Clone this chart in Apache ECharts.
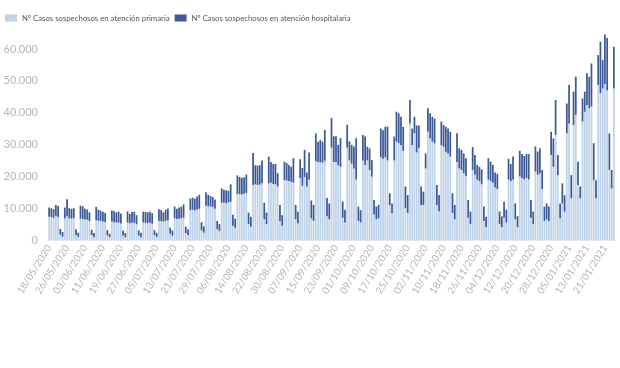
<!DOCTYPE html>
<html>
<head>
<meta charset="utf-8">
<script src="https://cdn.jsdelivr.net/npm/echarts@6/dist/echarts.min.js"></script>
<style>html,body{margin:0;padding:0;background:#fff}#chart{width:620px;height:368px}</style>
</head>
<body>
<div id="chart"></div>
<script>
const categories = [
'18/05/2020','19/05/2020','20/05/2020','21/05/2020','22/05/2020','23/05/2020','24/05/2020','25/05/2020','26/05/2020','27/05/2020','28/05/2020','29/05/2020','30/05/2020','31/05/2020',
'01/06/2020','02/06/2020','03/06/2020','04/06/2020','05/06/2020','06/06/2020','07/06/2020','08/06/2020','09/06/2020','10/06/2020','11/06/2020','12/06/2020','13/06/2020','14/06/2020','15/06/2020','16/06/2020','17/06/2020','18/06/2020','19/06/2020','20/06/2020','21/06/2020','22/06/2020','23/06/2020','24/06/2020','25/06/2020','26/06/2020','27/06/2020','28/06/2020','29/06/2020','30/06/2020',
'01/07/2020','02/07/2020','03/07/2020','04/07/2020','05/07/2020','06/07/2020','07/07/2020','08/07/2020','09/07/2020','10/07/2020','11/07/2020','12/07/2020','13/07/2020','14/07/2020','15/07/2020','16/07/2020','17/07/2020','18/07/2020','19/07/2020','20/07/2020','21/07/2020','22/07/2020','23/07/2020','24/07/2020','25/07/2020','26/07/2020','27/07/2020','28/07/2020','29/07/2020','30/07/2020','31/07/2020',
'01/08/2020','02/08/2020','03/08/2020','04/08/2020','05/08/2020','06/08/2020','07/08/2020','08/08/2020','09/08/2020','10/08/2020','11/08/2020','12/08/2020','13/08/2020','14/08/2020','15/08/2020','16/08/2020','17/08/2020','18/08/2020','19/08/2020','20/08/2020','21/08/2020','22/08/2020','23/08/2020','24/08/2020','25/08/2020','26/08/2020','27/08/2020','28/08/2020','29/08/2020','30/08/2020','31/08/2020',
'01/09/2020','02/09/2020','03/09/2020','04/09/2020','05/09/2020','06/09/2020','07/09/2020','08/09/2020','09/09/2020','10/09/2020','11/09/2020','12/09/2020','13/09/2020','14/09/2020','15/09/2020','16/09/2020','17/09/2020','18/09/2020','19/09/2020','20/09/2020','21/09/2020','22/09/2020','23/09/2020','24/09/2020','25/09/2020','26/09/2020','27/09/2020','28/09/2020','29/09/2020','30/09/2020',
'01/10/2020','02/10/2020','03/10/2020','04/10/2020','05/10/2020','06/10/2020','07/10/2020','08/10/2020','09/10/2020','10/10/2020','11/10/2020','12/10/2020','13/10/2020','14/10/2020','15/10/2020','16/10/2020','17/10/2020','18/10/2020','19/10/2020','20/10/2020','21/10/2020','22/10/2020','23/10/2020','24/10/2020','25/10/2020','26/10/2020','27/10/2020','28/10/2020','29/10/2020','30/10/2020','31/10/2020',
'01/11/2020','02/11/2020','03/11/2020','04/11/2020','05/11/2020','06/11/2020','07/11/2020','08/11/2020','09/11/2020','10/11/2020','11/11/2020','12/11/2020','13/11/2020','14/11/2020','15/11/2020','16/11/2020','17/11/2020','18/11/2020','19/11/2020','20/11/2020','21/11/2020','22/11/2020','23/11/2020','24/11/2020','25/11/2020','26/11/2020','27/11/2020','28/11/2020','29/11/2020','30/11/2020',
'01/12/2020','02/12/2020','03/12/2020','04/12/2020','05/12/2020','06/12/2020','07/12/2020','08/12/2020','09/12/2020','10/12/2020','11/12/2020','12/12/2020','13/12/2020','14/12/2020','15/12/2020','16/12/2020','17/12/2020','18/12/2020','19/12/2020','20/12/2020','21/12/2020','22/12/2020','23/12/2020','24/12/2020','25/12/2020','26/12/2020','27/12/2020','28/12/2020','29/12/2020','30/12/2020','31/12/2020',
'01/01/2021','02/01/2021','03/01/2021','04/01/2021','05/01/2021','06/01/2021','07/01/2021','08/01/2021','09/01/2021','10/01/2021','11/01/2021','12/01/2021','13/01/2021','14/01/2021','15/01/2021','16/01/2021','17/01/2021','18/01/2021','19/01/2021','20/01/2021','21/01/2021','22/01/2021','23/01/2021','24/01/2021','25/01/2021'
];

const primaria = [
7300,7200,7000,7600,7200,1700,1000,
6800,7500,6800,6700,6900,1500,1000,
6700,6600,6500,6400,5900,1500,900,
6200,6000,6000,5800,5600,1400,900,
5800,5600,5500,5500,5200,1400,900,
5500,5300,5400,5400,5000,1400,900,
5500,5400,5300,5400,5100,1500,1000,
6000,5900,5800,6000,6200,2000,1400,
6800,6600,6700,6800,7000,2200,1600,
9400,9500,9300,9600,9800,3000,2300,
10800,10600,10500,10400,9800,3400,2800,
11700,11800,11500,11800,12000,4500,3800,
14500,14400,14300,14500,14800,5000,4200,
17300,17500,17300,17400,17800,6500,5000,
17800,18000,17600,17500,16800,6000,4500,
18800,18700,18500,18300,18000,6500,5200,
19500,17000,19800,16800,19000,6800,6000,
24800,24500,24400,24300,24900,7500,6500,
29000,24500,24500,23500,23000,7000,5500,
29000,25000,24000,22500,19000,6000,5500,
25000,23600,25000,22000,19900,8000,6500,
6800,26000,25500,26000,25000,11000,8400,
25000,30900,30400,29800,28000,10000,8500,
36600,29800,33500,27500,29000,11000,11000,
22500,34000,32000,30900,30400,11000,9000,
29800,29300,27700,27200,26200,8500,6500,
24500,22500,22000,21000,20000,7000,5000,
22000,20500,19000,18500,17500,6000,4000,
19000,18500,18000,16500,16000,5000,4000,
7000,5500,19000,18500,19000,6500,4000,
20000,19500,19000,19500,19000,7000,5000,
21500,20500,21000,16000,6000,6500,6000,
26700,23000,33000,20400,6800,11500,8900,
33500,36600,13100,36100,39300,17300,13100,
37200,40300,42400,41400,41900,18800,13100,
48700,46100,47600,49000,47000,22000,16200,
47600
];

const hospitalaria = [
2900,2800,2700,3400,3500,1800,1500,
3400,5300,3200,3100,3100,1900,1300,
4100,4000,3300,3200,2800,1700,1300,
4200,3500,3200,3100,2900,1700,1100,
3500,3400,3200,3400,3100,1600,1300,
3500,2900,3400,3500,2800,1600,1400,
3400,3400,3400,3500,3300,1600,1300,
3700,3500,2900,3500,3700,1900,1600,
3700,3200,3500,3700,4200,2000,1700,
3600,3800,3700,4100,4400,2600,2000,
4200,3600,3300,3100,2900,2600,2200,
4500,4000,4100,3700,5500,3400,2900,
5800,5400,5200,5200,5800,3600,3100,
10000,6000,6100,6100,7200,5200,3600,
8400,6500,6300,6400,4200,5000,3300,
5800,5500,5100,4700,7700,4500,3700,
5900,5600,8500,4400,8500,5600,5000,
8700,6400,7000,6600,9700,5700,5000,
9300,8100,8100,6400,9000,5100,4000,
7200,6000,5900,6900,13000,4500,3900,
8000,8900,4300,6800,5200,4600,4000,
4200,9000,9000,9600,10600,3700,3100,
7500,9400,9400,8900,7500,6800,5600,
7400,5200,5200,8500,7000,5800,4200,
4700,7400,7800,7800,7800,6300,5100,
7400,6800,7900,7800,7800,6200,4500,
9000,6300,6300,6200,5700,5600,3900,
7200,6200,4600,4500,4700,4500,3300,
6700,6100,5600,4700,4800,4000,3400,
5000,4000,6500,5400,7200,5000,3500,
8000,7500,7400,7500,8000,5600,3900,
7900,7300,7800,6000,4500,5000,4500,
7300,8900,11000,6300,4700,6300,5200,
9400,12100,7300,10500,12000,7300,3700,
7300,6300,10000,9900,13600,11600,5700,
9400,16200,8900,15600,16500,11500,5800,
13100
];

const yTicks = [0, 10000, 20000, 30000, 40000, 50000, 60000];
const seriesNames = ['Nº Casos sospechosos en atención primaria', 'Nº Casos sospechosos en atención hospitalaria'];

const fmt = v => String(v).replace(/\B(?=(\d{3})+(?!\d))/g, '.');

const chart = echarts.init(document.getElementById('chart'), null, {renderer: 'canvas'});
chart.setOption({
  animation: false,
  backgroundColor: '#ffffff',
  textStyle: {fontFamily: 'Lato, "Open Sans", sans-serif'},
  legend: {
    left: 0, top: 9,
    itemWidth: 12, itemHeight: 7, itemGap: 5,
    icon: 'rect',
    textStyle: {fontSize: 7.75, color: '#555555', fontFamily: 'Lato'},
    data: seriesNames
  },
  grid: {left: 48, right: 5, top: 17.2, bottom: 128, containLabel: false},
  xAxis: {
    type: 'category',
    data: categories,
    axisTick: {show: false},
    axisLine: {show: true, lineStyle: {color: '#e6e6e6'}},
    axisLabel: {interval: 7, rotate: 58, fontSize: 10, color: '#b5b5b5', margin: 6, fontFamily: 'Lato'}
  },
  yAxis: {
    type: 'value',
    min: yTicks[0], max: 70000, interval: 10000,
    splitLine: {show: false},
    axisLine: {show: false},
    axisTick: {show: false},
    axisLabel: {showMaxLabel: false, fontSize: 11, color: '#b5b5b5', margin: 10, fontFamily: 'Lato', formatter: fmt}
  },
  series: [
    {name: seriesNames[0], type: 'bar', stack: 'total', data: primaria, barCategoryGap: '22%',
     itemStyle: {color: '#bed3e9'}},
    {name: seriesNames[1], type: 'bar', stack: 'total', data: hospitalaria, barCategoryGap: '22%',
     itemStyle: {color: '#3d5a98'}}
  ]
});
</script>
</body>
</html>
